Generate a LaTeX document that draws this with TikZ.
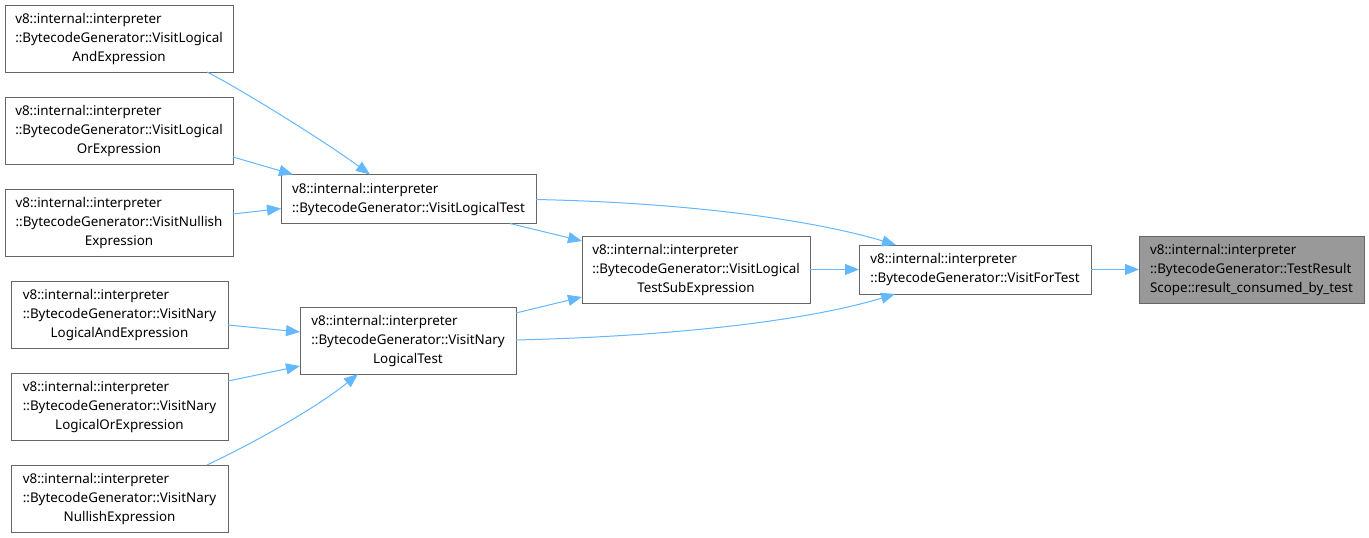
\documentclass[tikz,border=0pt]{standalone}
\usepackage{fontspec}
\setmainfont{Noto Sans}
\usetikzlibrary{arrows.meta,calc}
\definecolor{edgeblue}{HTML}{63B8FF}
\definecolor{boxgray}{HTML}{666666}
\definecolor{hlfill}{HTML}{999999}
\newcommand{\tlines}[3]{\begin{tabular}{@{}l@{}}#1\\#2\\\multicolumn{1}{@{}c@{}}{#3}\end{tabular}}
\newcommand{\twolines}[2]{\begin{tabular}{@{}l@{}}#1\\#2\end{tabular}}
\tikzset{
  fn/.style={draw=boxgray, line width=1pt, fill=white, inner sep=0pt, outer sep=0pt,
    font=\fontsize{13.4}{19}\selectfont, minimum height=67pt},
  fn2/.style={fn, minimum height=49pt},
  hl/.style={fn, fill=hlfill},
  call/.style={draw=edgeblue, line width=1pt, -{Triangle[length=14pt,width=11pt]}}
}
\begin{document}
\begin{tikzpicture}[x=1pt,y=-1pt]
\fill[white] (0,0) rectangle (1369,538);
\useasboundingbox (0,0) rectangle (1369,538);

\node[fn, minimum width=228pt] (And) at (119,38.5) {\tlines{v8::internal::interpreter}{::BytecodeGenerator::VisitLogical}{AndExpression}};
\node[fn, minimum width=228pt] (Or) at (119,130.5) {\tlines{v8::internal::interpreter}{::BytecodeGenerator::VisitLogical}{OrExpression}};
\node[fn, minimum width=228pt] (Nul) at (119,222.5) {\tlines{v8::internal::interpreter}{::BytecodeGenerator::VisitNullish}{Expression}};
\node[fn2, minimum width=255pt] (LT) at (408.5,199) {\twolines{v8::internal::interpreter}{::BytecodeGenerator::VisitLogicalTest}};
\node[fn, minimum width=217pt] (NAnd) at (119.5,314.5) {\tlines{v8::internal::interpreter}{::BytecodeGenerator::VisitNary}{LogicalAndExpression}};
\node[fn, minimum width=217pt] (NOr) at (119.5,406.5) {\tlines{v8::internal::interpreter}{::BytecodeGenerator::VisitNary}{LogicalOrExpression}};
\node[fn, minimum width=217pt] (NNul) at (119.5,498.5) {\tlines{v8::internal::interpreter}{::BytecodeGenerator::VisitNary}{NullishExpression}};
\node[fn, minimum width=216pt] (Nary) at (408,340.5) {\tlines{v8::internal::interpreter}{::BytecodeGenerator::VisitNary}{LogicalTest}};
\node[fn, minimum width=228pt] (Sub) at (696,269.5) {\tlines{v8::internal::interpreter}{::BytecodeGenerator::VisitLogical}{TestSubExpression}};
\node[fn2, minimum width=232pt] (FT) at (975,269.5) {\twolines{v8::internal::interpreter}{::BytecodeGenerator::VisitForTest}};
\node[hl, minimum width=225pt] (TR) at (1251.5,269.5) {\tlines{v8::internal::interpreter}{::BytecodeGenerator::TestResult}{Scope::result\_consumed\_by\_test}};

\draw[call] ($(And.south west)+(202,0)$) .. controls (235,86) and (320,138) .. ($(LT.north west)+(89,0)$);
\draw[call] ($(Or.north east)+(0,60)$) -- ($(LT.north west)+(12,0)$);
\draw[call] ($(Nul.north east)+(0,25)$) -- ($(LT.north west)+(0,34)$);
\draw[call] ($(LT.north east)+(0,25)$) .. controls (700,203) and (820,222) .. ($(FT.north west)+(37,0)$);
\draw[call] ($(LT.south west)+(229,0)$) -- ($(Sub.north west)+(0,5)$);
\draw[call] ($(Nary.north east)+(0,6)$) -- ($(Sub.south west)+(0,-6)$);
\draw[call] ($(Nary.north east)+(0,33)$) .. controls (680,336) and (810,320) .. ($(FT.south west)+(36,0)$);
\draw[call] (Sub.east) -- (FT.west);
\draw[call] (FT.east) -- (TR.west);
\draw[call] ($(NAnd.north east)+(0,44)$) -- ($(Nary.north west)+(0,25)$);
\draw[call] ($(NOr.north east)+(0,8)$) -- ($(Nary.north west)+(0,59)$);
\draw[call] ($(NNul.north west)+(196,0)$) .. controls (260,440) and (320,405) .. ($(Nary.south west)+(58,0)$);
\end{tikzpicture}
\end{document}
